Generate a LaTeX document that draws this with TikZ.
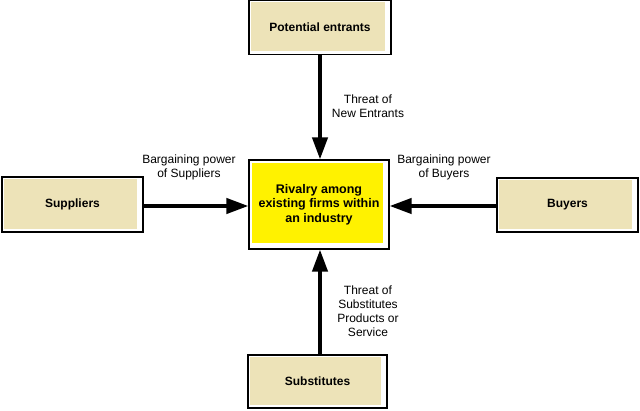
\documentclass[tikz,border=0pt]{standalone}
\usepackage{fontspec}
\setmainfont{Liberation Sans}
\usetikzlibrary{arrows.meta}
\definecolor{beige}{RGB}{237,227,184}
\definecolor{rivyellow}{RGB}{255,242,0}
\tikzset{
  forcebox/.style={draw=black, line width=1.1pt, fill=white, minimum width=#1, inner sep=0pt,
    font=\fontsize{12}{14}\selectfont\bfseries, align=center,
    path picture={\fill[beige] ([xshift=2pt,yshift=3pt]path picture bounding box.south west) rectangle ([xshift=-6pt,yshift=-2pt]path picture bounding box.north east);}},
  rivbox/.style={draw=black, line width=1.1pt, fill=white, minimum width=140pt, minimum height=89pt, inner sep=0pt,
    font=\fontsize{12.5}{14.3}\selectfont\bfseries, align=center,
    path picture={\fill[rivyellow] ([xshift=3pt,yshift=6pt]path picture bounding box.south west) rectangle ([xshift=-6pt,yshift=-3pt]path picture bounding box.north east);}},
  forcelabel/.style={font=\fontsize{12}{14}\selectfont, align=center, inner sep=0pt},
  force/.style={line width=4pt, -{Triangle[length=22pt,width=15pt]}, shorten >=0pt}
}
\begin{document}
\begin{tikzpicture}[x=1pt,y=1pt]
\useasboundingbox (0,0) rectangle (640,410);
\node[forcebox=142pt, minimum height=54pt] (pe) at (320,382.5) {Potential entrants};
\node[forcebox=141pt, minimum height=55pt] (sup) at (72.5,205.5) {Suppliers};
\node[forcebox=141pt, minimum height=54pt] (buy) at (567.5,205) {Buyers};
\node[forcebox=139pt, minimum height=53pt] (sub) at (317.5,28.5) {Substitutes};
\node[rivbox] (riv) at (319,205.5) {Rivalry among\\existing firms within\\an industry};

\coordinate (topend) at (320,0 |- riv.north);
\coordinate (botend) at (320,0 |- riv.south);
\draw[force] (pe.south -| topend) -- (topend);
\draw[force] (sub.north -| botend) -- (botend);
\coordinate (leftend) at (riv.west |- 0,204);
\coordinate (rightend) at (riv.east |- 0,204);
\draw[force] (sup.east |- leftend) -- (leftend);
\draw[force] (buy.west |- rightend) -- (rightend);

\node[forcelabel] (l1) at (368,304) {Threat of\\New Entrants};
\node[forcelabel] (l2) at (189,243) {Bargaining power\\of Suppliers};
\node[forcelabel] (l3) at (444,243) {Bargaining power\\of Buyers};
\node[forcelabel] (l4) at (368,99) {Threat of\\Substitutes\\Products or\\Service};
\end{tikzpicture}
\end{document}
